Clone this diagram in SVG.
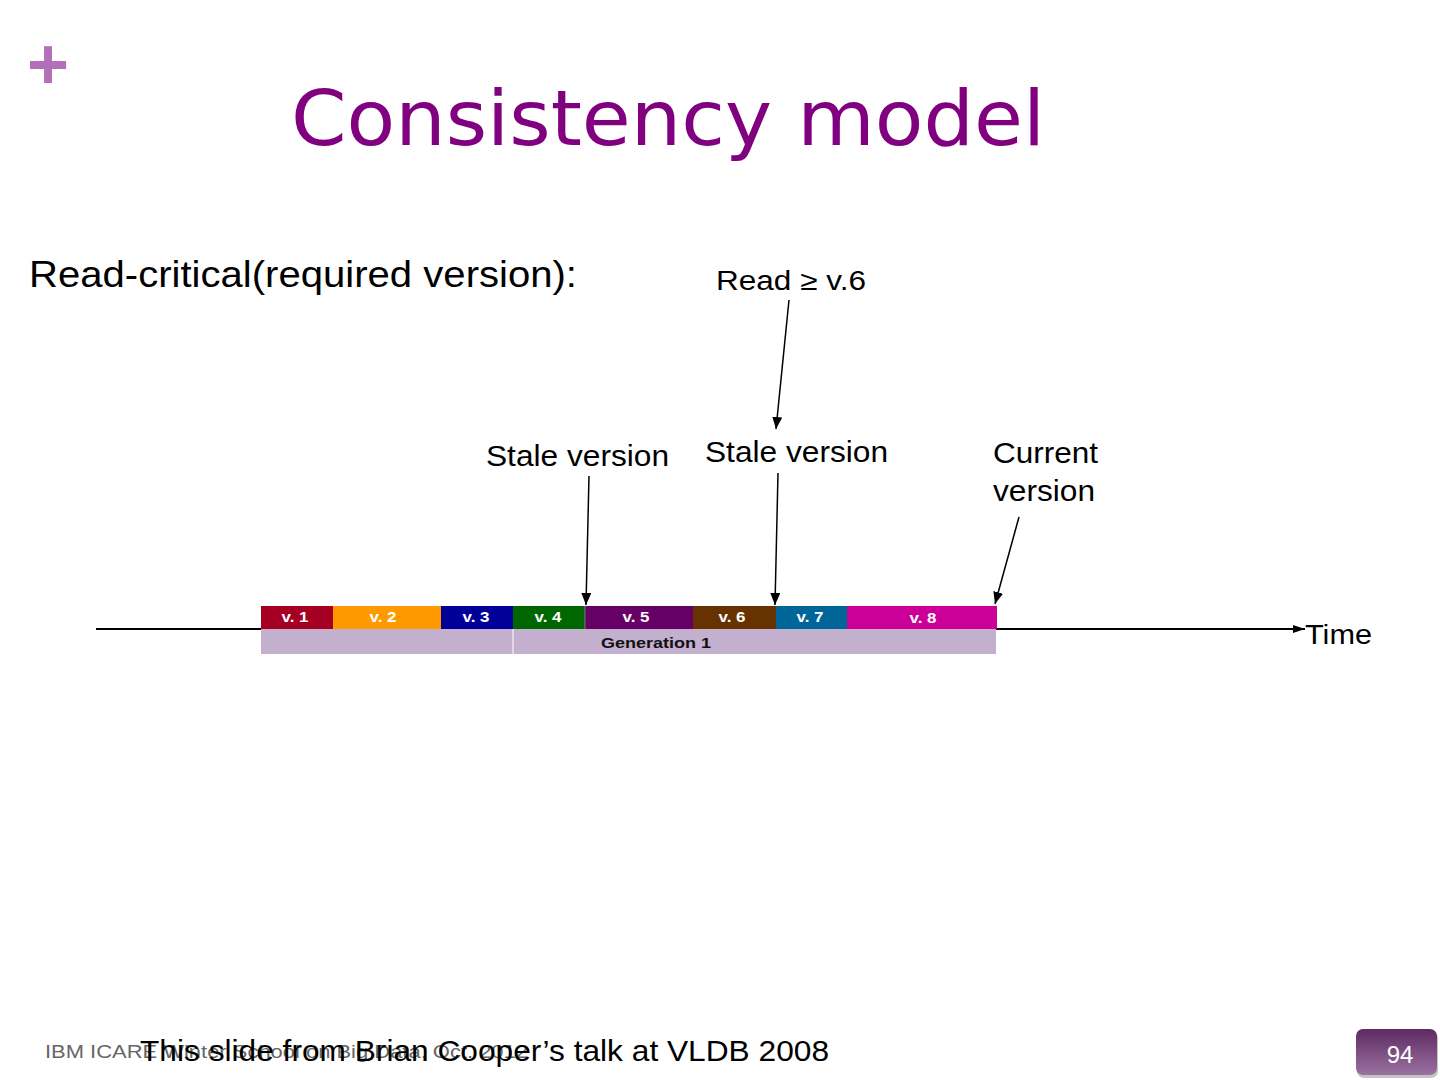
<svg xmlns="http://www.w3.org/2000/svg" width="1440" height="1080" viewBox="0 0 1440 1080">
<style>
text{font-family:"Liberation Sans",Arial,sans-serif;}
.lbl{font-size:29px;fill:#000;}
.ver{font-size:14px;font-weight:bold;fill:#fff;text-anchor:middle;}
.conn line{stroke:#000;stroke-width:1.5;}
</style>
<defs>
<marker id="ah" viewBox="0 0 12 10" refX="12" refY="5" markerWidth="12" markerHeight="10" markerUnits="userSpaceOnUse" orient="auto"><path d="M0,0 L12,5 L0,10 z" fill="#000"/></marker>
<marker id="ah2" viewBox="0 0 12 8" refX="12" refY="4" markerWidth="12" markerHeight="8" markerUnits="userSpaceOnUse" orient="auto"><path d="M0,0 L12,4 L0,8 z" fill="#000"/></marker>
<linearGradient id="pg" x1="0" y1="0" x2="0" y2="1"><stop offset="0" stop-color="#5E2A63"/><stop offset="1" stop-color="#9A72A0"/></linearGradient>
</defs>
<rect width="1440" height="1080" fill="#fff"/>
<text x="48" y="89" font-size="72" font-weight="bold" fill="#B36FB8" text-anchor="middle">+</text>
<text x="291" y="145" font-size="76" fill="#800080" textLength="754" lengthAdjust="spacingAndGlyphs" style="font-family:'DejaVu Sans','Open Sans',sans-serif">Consistency model</text>
<text x="29" y="287" font-size="37" textLength="548" lengthAdjust="spacingAndGlyphs">Read-critical(required version):</text>

<g id="timeline">
<line x1="96" y1="629" x2="1305" y2="629" stroke="#000" stroke-width="2" marker-end="url(#ah2)"/>
<text x="1305" y="644" font-size="27" textLength="67" lengthAdjust="spacingAndGlyphs">Time</text>
</g>

<g id="versions">
<rect x="261" y="606" width="72" height="23" fill="#A50021"/>
<rect x="333" y="606" width="108" height="23" fill="#FF9900"/>
<rect x="441" y="606" width="72" height="23" fill="#000099"/>
<rect x="513" y="606" width="72" height="23" fill="#006600"/>
<rect x="585" y="606" width="108" height="23" fill="#660066"/>
<rect x="693" y="606" width="83" height="23" fill="#663300"/>
<rect x="776" y="606" width="71" height="23" fill="#006699"/>
<rect x="847" y="606" width="150" height="23" fill="#CC0099"/>
<line x1="585" y1="606" x2="585" y2="629" stroke="#fff" stroke-width="0.6" opacity="0.6"/>
<text class="ver" x="295" y="622" textLength="27" lengthAdjust="spacingAndGlyphs">v. 1</text>
<text class="ver" x="383" y="622" textLength="27" lengthAdjust="spacingAndGlyphs">v. 2</text>
<text class="ver" x="476" y="622" textLength="27" lengthAdjust="spacingAndGlyphs">v. 3</text>
<text class="ver" x="548" y="622" textLength="27" lengthAdjust="spacingAndGlyphs">v. 4</text>
<text class="ver" x="636" y="622" textLength="27" lengthAdjust="spacingAndGlyphs">v. 5</text>
<text class="ver" x="732" y="622" textLength="27" lengthAdjust="spacingAndGlyphs">v. 6</text>
<text class="ver" x="810" y="622" textLength="27" lengthAdjust="spacingAndGlyphs">v. 7</text>
<text class="ver" x="923" y="623" textLength="27" lengthAdjust="spacingAndGlyphs">v. 8</text>
<rect x="261" y="629" width="735" height="25" fill="#C3AFCE"/>
<line x1="513" y1="629" x2="513" y2="654" stroke="#fff" stroke-width="1"/>
<text x="656" y="648" font-size="15" font-weight="bold" fill="#111" text-anchor="middle" textLength="110" lengthAdjust="spacingAndGlyphs">Generation 1</text>
</g>

<g id="read-label"><text x="716" y="290" font-size="27" textLength="150" lengthAdjust="spacingAndGlyphs">Read ≥ v.6</text></g>
<g id="stale-left"><text class="lbl" x="486" y="466" textLength="183" lengthAdjust="spacingAndGlyphs">Stale version</text></g>
<g id="stale-mid"><text class="lbl" x="705" y="462" textLength="183" lengthAdjust="spacingAndGlyphs">Stale version</text></g>
<g id="current"><text class="lbl" x="993" y="463" textLength="105" lengthAdjust="spacingAndGlyphs">Current</text><text class="lbl" x="993" y="501" textLength="102" lengthAdjust="spacingAndGlyphs">version</text></g>

<g class="conn" id="connectors">
<line x1="789" y1="300" x2="776" y2="429" marker-end="url(#ah)"/>
<line x1="589" y1="476" x2="586" y2="605" marker-end="url(#ah)"/>
<line x1="778" y1="473" x2="775" y2="605" marker-end="url(#ah)"/>
<line x1="1019" y1="517" x2="995" y2="604" marker-end="url(#ah)"/>
</g>

<g id="footer">
<text x="45" y="1058" font-size="19" fill="#666" textLength="483" lengthAdjust="spacingAndGlyphs">IBM ICARE Winter School on Big Data, Oct. 2012</text>
<text x="140" y="1061" font-size="29" fill="#000" textLength="689" lengthAdjust="spacingAndGlyphs">This slide from Brian Cooper’s talk at VLDB 2008</text>
<rect x="1357" y="1031" width="81" height="47" rx="7" fill="#8a8a8a" opacity="0.5"/>
<rect x="1356" y="1029" width="81" height="46" rx="7" fill="url(#pg)"/>
<text x="1400" y="1063" font-size="24" fill="#fff" text-anchor="middle">94</text>
</g>
</svg>
